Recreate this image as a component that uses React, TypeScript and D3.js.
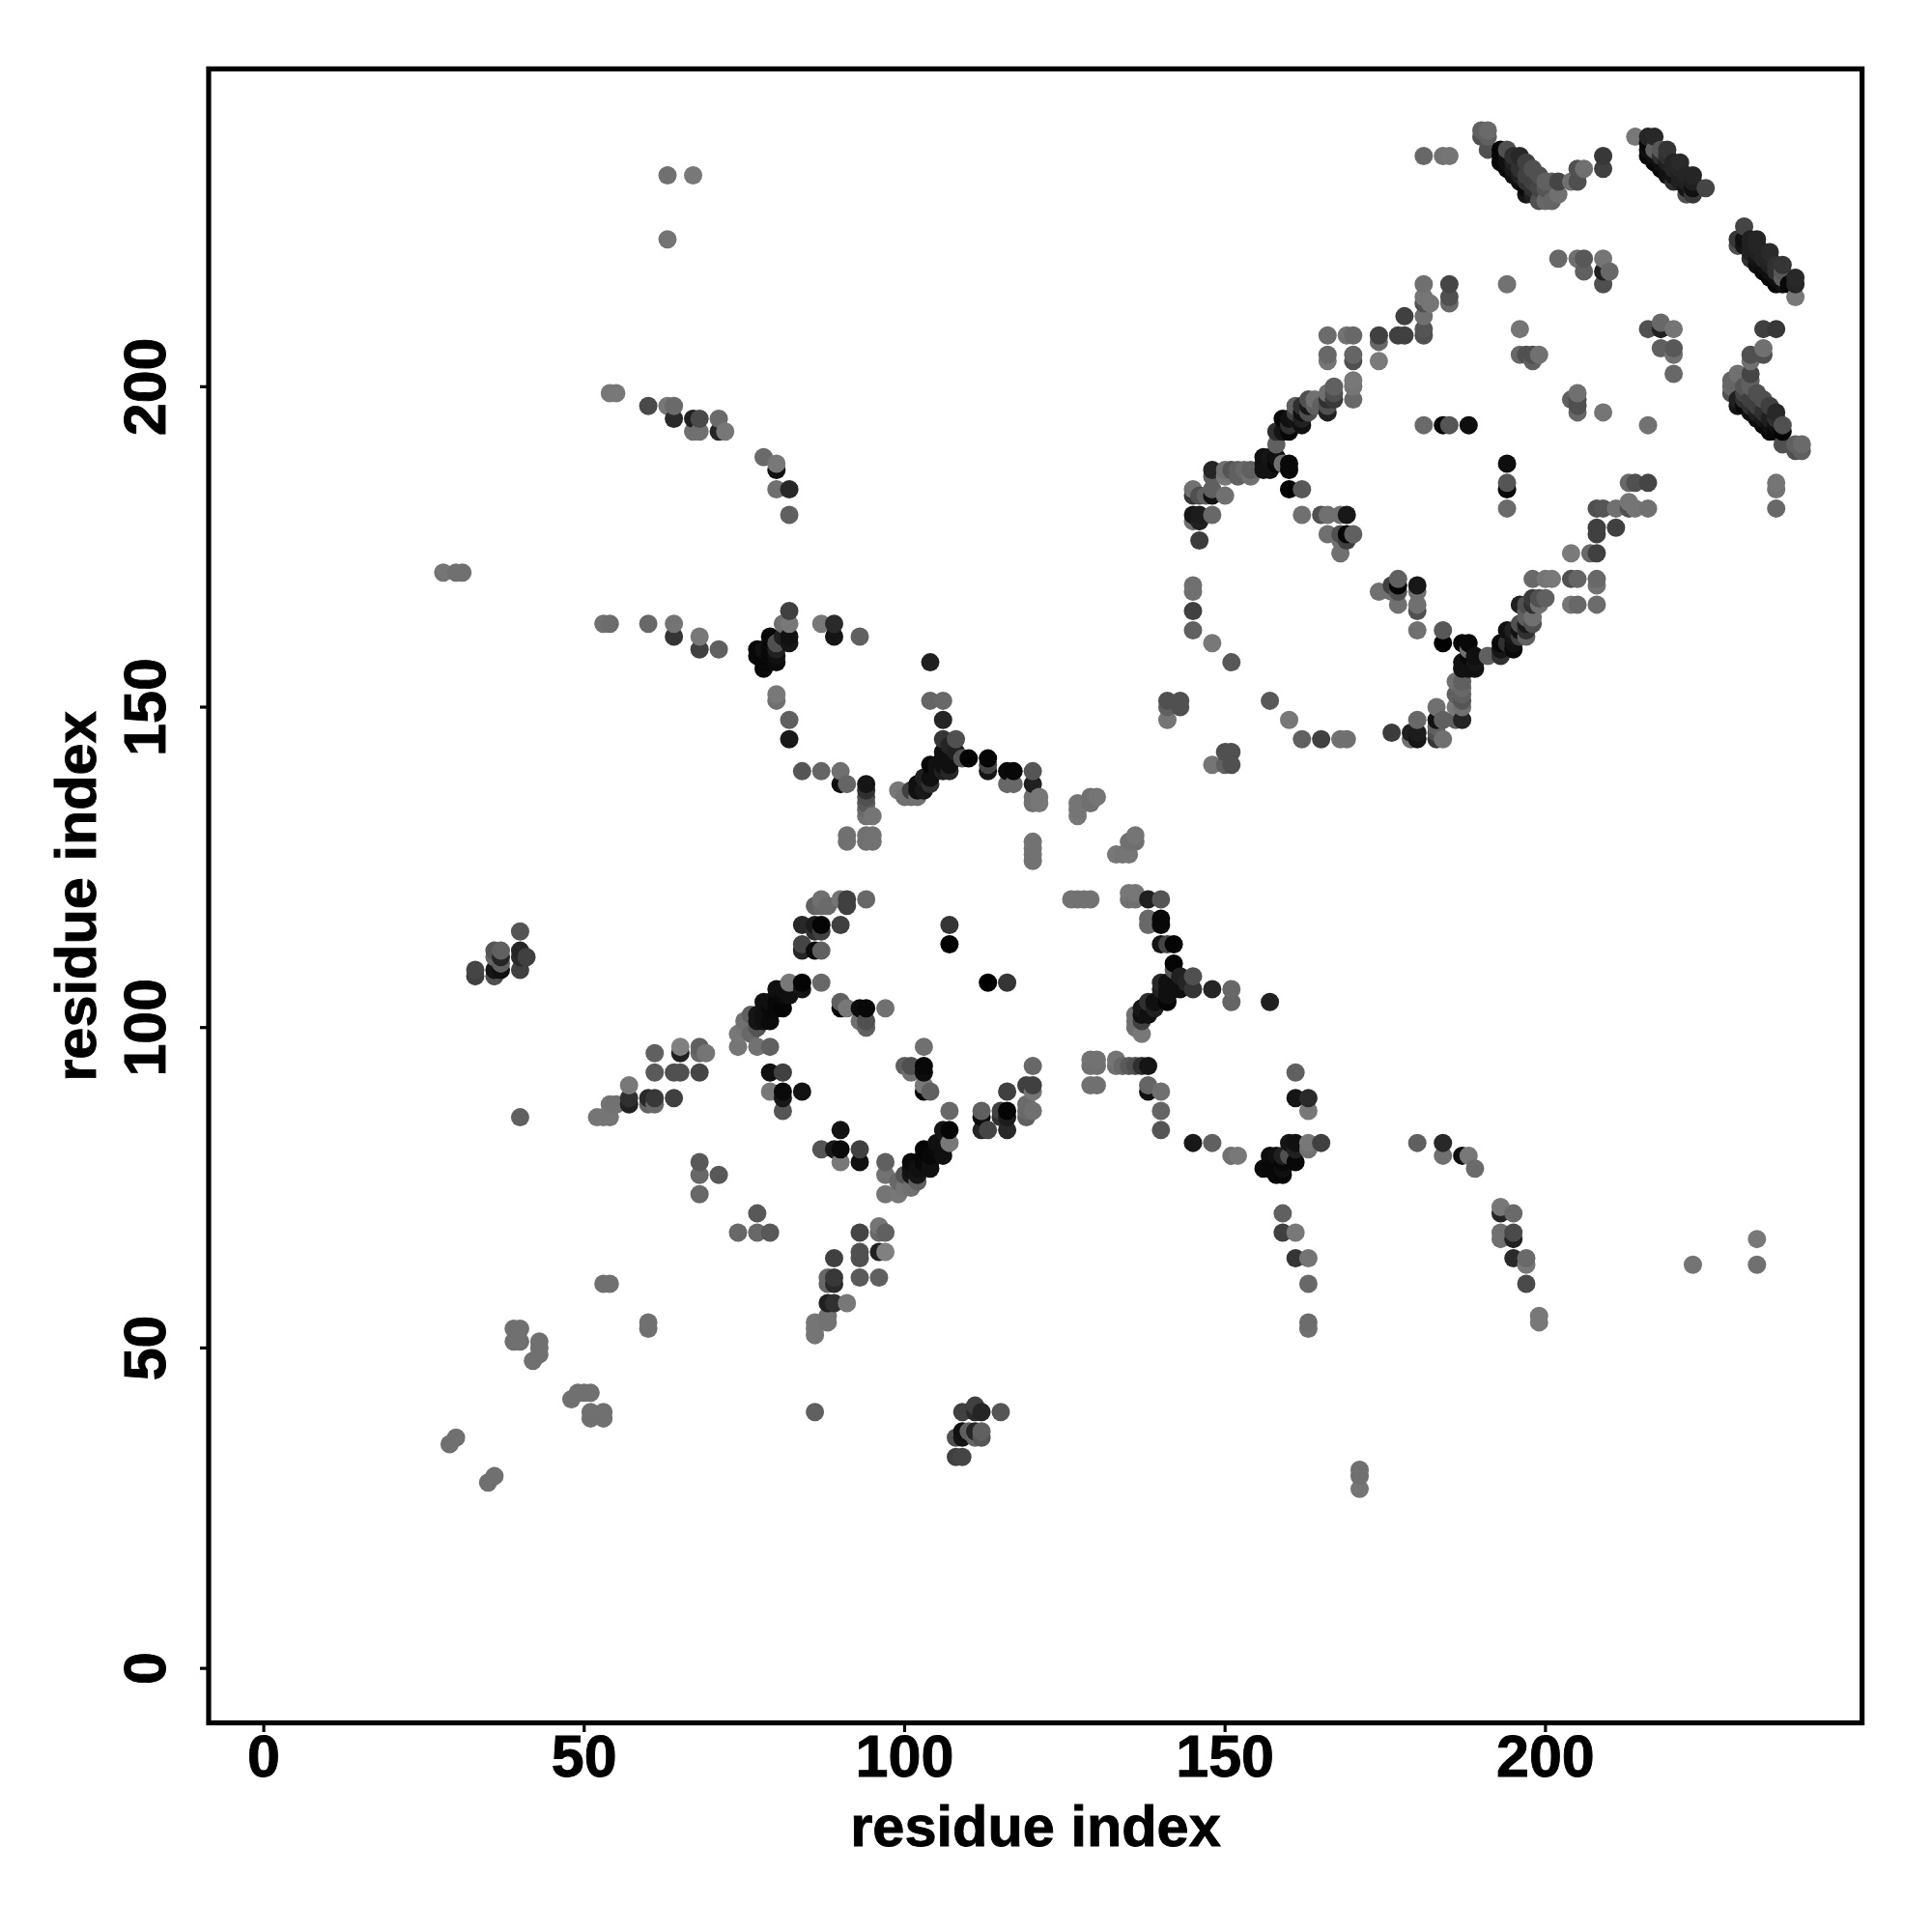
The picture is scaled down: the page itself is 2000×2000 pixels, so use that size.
import React from "react";
import * as d3 from "d3";

// Contacts are [residue i, residue j, grey level]; the map is symmetric, so only i < j is listed.
const farContacts = [
[63,233,0x70],[67,233,0x78],[63,223,0x74],[54,199,0x78],[55,199,0x78],[60,197,0x4a],[63,197,0x77],[64,197,0x6a],[64,195,0x2a],[67,195,0x20],[68,195,0x4a],[71,195,0x6a],[67,193,0x70],[68,193,0x70],[71,193,0x25],[72,193,0x77],[78,189,0x6a],[80,188,0x78],[80,187,0x10],[80,184,0x70],[82,184,0x28],[82,180,0x60],[28,171,0x75],[30,171,0x70],[31,171,0x70],[53,163,0x70],[54,163,0x6c],[60,163,0x68],[64,163,0x74],[64,161,0x35],[68,161,0x78],[68,159,0x40],[71,159,0x60],
];
const betaArmA = [
[77,159,0x08],[77,158,0x0a],[78,156,0x0a],[79,161,0x08],[79,159,0x08],[80,157,0x0c],[79,157,0x08],[78,158,0x08],[78,157,0x08],[79,158,0x08],[78,159,0x10],[80,158,0x10],[80,159,0x20],[82,165,0x40],[81,163,0x70],[82,163,0x78],[82,161,0x10],[82,160,0x15],[81,161,0x20],[80,160,0x50],[87,163,0x78],[89,163,0x2a],[89,161,0x15],[93,161,0x60],[80,152,0x78],[80,151,0x70],[82,148,0x60],[82,145,0x18],[84,140,0x55],[87,140,0x65],[90,140,0x70],[90,138,0x10],[91,138,0x65],[94,138,0x15],[94,137,0x30],[94,136,0x50],[94,135,0x5a],[94,134,0x68],[94,133,0x70],[95,133,0x75],[91,130,0x70],[91,129,0x70],[94,130,0x70],[94,129,0x70],[95,130,0x72],[95,129,0x72],
[99,137,0x78],[100,136,0x70],[101,136,0x70],[102,136,0x70],[102,138,0x10],[102,137,0x10],[103,137,0x18],[103,139,0x20],[104,138,0x30],[104,139,0x10],[104,141,0x05],[101,137,0x40],[105,140,0x10],[105,141,0x10],[106,143,0x10],[106,142,0x10],[106,141,0x10],[106,140,0x20],[107,140,0x28],[107,141,0x10],[107,142,0x10],[108,143,0x20],[104,157,0x20],[104,151,0x65],[106,151,0x68],[106,148,0x25],[106,145,0x35],[108,145,0x50],[107,144,0x25],[110,142,0x05],[109,142,0x55],[113,142,0x05],[113,141,0x45],[113,140,0x15],[116,140,0x0a],[117,140,0x08],[116,138,0x68],[117,138,0x68],[120,140,0x55],[120,138,0x20],[120,136,0x70],[120,135,0x70],[121,136,0x77],[121,135,0x77],[120,129,0x72],[120,128,0x72],[120,127,0x72],[120,126,0x72],
[127,135,0x75],[127,134,0x75],[127,133,0x78],[129,136,0x70],[129,135,0x70],[130,136,0x75],[133,127,0x75],[134,127,0x75],[135,127,0x75],[135,129,0x70],[136,130,0x75],[136,129,0x75],[141,151,0x50],[141,150,0x60],[141,148,0x75],[143,151,0x50],[143,150,0x50],[150,143,0x50],[151,143,0x50],[148,141,0x75],[150,141,0x55],[151,141,0x55],
];
const earlyContacts = [
[87,120,0x70],[86,119,0x60],[87,119,0x68],[88,119,0x6a],[91,120,0x40],[91,119,0x40],[90,120,0x75],[94,120,0x68],[84,116,0x28],[86,116,0x1c],[87,116,0x05],[90,116,0x40],[86,115,0x30],[87,115,0x40],[84,113,0x45],[84,112,0x25],[86,112,0x0c],[87,112,0x60],[107,116,0x35],[107,113,0x00],
[82,107,0x78],[84,107,0x05],[84,106,0x15],[87,107,0x68],[80,106,0x10],[81,106,0x10],[82,105,0x10],[81,105,0x0a],[78,104,0x10],[79,104,0x10],[81,103,0x05],[80,104,0x08],[80,103,0x08],[79,103,0x08],[78,102,0x10],[77,102,0x15],[79,101,0x0a],[78,101,0x10],[77,101,0x15],[76,102,0x60],[75,101,0x70],[75,100,0x75],[77,100,0x55],[76,99,0x68],[74,99,0x78],[74,97,0x75],[77,97,0x72],[79,97,0x60],[79,93,0x10],[81,93,0x40],[79,90,0x78],[81,90,0x0a],[81,89,0x18],[84,90,0x12],[81,87,0x55],[90,104,0x60],[90,103,0x05],[91,103,0x78],[93,103,0x0c],[94,103,0x08],[97,103,0x70],[93,101,0x70],[94,101,0x50],[94,100,0x60],
[40,115,0x55],[36,112,0x55],[37,112,0x60],[40,112,0x25],[41,111,0x40],[37,111,0x25],[36,111,0x65],[40,111,0x2a],[37,110,0x60],[37,109,0x10],[36,109,0x15],[40,109,0x40],[36,108,0x50],[33,109,0x45],[33,108,0x40],[40,86,0x60],
[61,96,0x60],[65,97,0x80],[65,96,0x20],[68,97,0x60],[69,96,0x75],[68,96,0x68],[61,93,0x5a],[64,93,0x50],[65,93,0x50],[68,93,0x45],[57,91,0x78],[57,89,0x30],[57,88,0x20],[60,89,0x2a],[61,89,0x38],[60,88,0x65],[61,88,0x68],[64,89,0x40],[54,88,0x72],[55,88,0x72],[52,86,0x75],[53,86,0x75],[54,86,0x75],[68,79,0x58],[68,77,0x68],[71,77,0x58],[68,74,0x68],[77,71,0x55],
[53,60,0x70],[54,60,0x70],[39,53,0x70],[40,53,0x70],[39,51,0x70],[40,51,0x70],[43,51,0x70],[43,50,0x70],[43,49,0x70],[42,48,0x70],[29,35,0x70],[30,36,0x70],
];
const lateArc = [
[181,236,0x68],[184,236,0x72],[185,236,0x75],[190,240,0x60],[190,239,0x50],[191,240,0x6a],[191,237,0x50],[193,237,0x05],[193,236,0x08],[193,235,0x08],[194,237,0x50],[194,236,0x10],[194,235,0x10],[194,234,0x08],[195,236,0x30],[195,235,0x20],[195,234,0x18],[195,233,0x10],[196,236,0x28],[196,234,0x30],[196,233,0x20],[196,232,0x10],[197,233,0x40],[197,232,0x30],[197,231,0x08],[197,230,0x15],[198,234,0x50],[198,232,0x40],[198,231,0x30],[198,230,0x20],[199,231,0x45],[199,229,0x50],[200,232,0x60],[200,229,0x68],[201,232,0x60],[201,229,0x65],[202,232,0x45],[202,230,0x70],[204,232,0x70],[205,234,0x50],[205,232,0x50],[206,234,0x70],[209,236,0x38],[209,234,0x40],
[214,239,0x78],[216,239,0x25],[217,239,0x28],[216,237,0x10],[216,236,0x08],[217,236,0x10],[217,235,0x08],[218,237,0x58],[218,236,0x30],[219,237,0x35],[219,235,0x20],[218,234,0x08],[219,233,0x10],[220,235,0x25],[220,234,0x25],[220,233,0x15],[221,235,0x2a],[220,232,0x30],[221,234,0x25],[221,233,0x20],[223,233,0x25],[221,232,0x20],[222,232,0x20],[222,231,0x15],[222,230,0x50],[223,232,0x20],[223,230,0x38],[223,231,0x10],[225,231,0x45],
[231,225,0x48],[230,223,0x50],[230,222,0x70],[231,223,0x10],[231,222,0x15],[232,223,0x20],[232,222,0x15],[232,221,0x15],[232,220,0x45],[233,223,0x30],[233,222,0x25],[233,221,0x15],[233,220,0x15],[234,221,0x20],[234,219,0x10],[234,218,0x10],[235,221,0x30],[235,220,0x20],[235,219,0x10],[235,218,0x10],[236,219,0x30],[236,218,0x10],[237,219,0x35],[236,217,0x10],[236,216,0x05],[237,216,0x05],[237,217,0x60],[238,216,0x08],[239,217,0x25],[239,216,0x25],[239,214,0x70],
[202,220,0x68],[205,220,0x70],[206,220,0x58],[206,218,0x60],[209,220,0x75],[209,218,0x20],[210,218,0x68],[209,216,0x50],[216,209,0x58],[218,210,0x68],[218,209,0x20],[220,209,0x78],[218,206,0x5a],[220,206,0x55],[220,205,0x70],[220,202,0x68],[234,209,0x48],[236,209,0x40],[232,205,0x58],[234,206,0x6a],[234,205,0x48],[232,204,0x78],[232,202,0x50],[230,202,0x70],[229,201,0x65],[229,199,0x50],[231,200,0x55],[232,200,0x58],[233,199,0x50],[234,198,0x58],[235,197,0x40],[232,198,0x30],[231,197,0x10],[232,196,0x10],[233,197,0x20],[233,195,0x05],[234,196,0x20],[234,195,0x10],[234,194,0x05],[235,195,0x15],[236,195,0x20],[235,193,0x05],[236,194,0x10],[236,196,0x25],[236,193,0x08],[237,194,0x50],[237,193,0x08],[237,191,0x50],[239,190,0x55],[239,191,0x60],[240,191,0x70],[240,190,0x50],
[205,199,0x70],[204,198,0x60],[205,198,0x50],[205,196,0x68],[209,196,0x75],[216,194,0x72],[198,205,0x55],[199,205,0x70],[197,205,0x50],[196,205,0x70],[196,209,0x72],[194,216,0x70],
];
const midArc = [
[181,216,0x70],[185,216,0x45],[181,214,0x75],[181,213,0x50],[182,213,0x75],[185,214,0x50],[185,213,0x68],[178,211,0x40],[181,211,0x70],[181,209,0x55],[181,208,0x50],[174,208,0x40],[177,208,0x40],[178,208,0x40],[174,207,0x68],[174,204,0x7a],[166,208,0x6c],[169,208,0x72],[170,208,0x68],[166,205,0x68],[166,204,0x75],[170,205,0x65],[170,204,0x50],[170,201,0x78],[170,200,0x75],[170,198,0x68],[167,200,0x60],[167,199,0x50],[166,199,0x70],[167,198,0x3a],[166,198,0x30],[166,196,0x20],[163,198,0x50],[164,197,0x60],[165,197,0x60],[161,197,0x60],[162,197,0x30],[162,196,0x10],[162,195,0x20],[162,194,0x10],[161,195,0x15],[160,195,0x10],[159,195,0x08],[160,194,0x30],[160,193,0x08],[159,193,0x15],[158,193,0x30],[158,191,0x60],[156,189,0x10],[156,188,0x12],[156,187,0x12],[157,189,0x15],[157,188,0x12],[157,187,0x12],[158,189,0x10],[159,188,0x70],[160,188,0x08],[160,187,0x08],[154,187,0x60],[153,187,0x68],[152,187,0x60],[150,187,0x70],[148,187,0x25],[148,186,0x60],[152,186,0x60],[154,186,0x70],
[181,194,0x6a],[184,194,0x08],[185,194,0x55],[188,194,0x0e],[160,184,0x02],[162,184,0x58],[145,184,0x70],[145,183,0x35],[148,184,0x60],[146,183,0x50],[148,183,0x12],[150,183,0x70],[145,180,0x15],[146,180,0x1c],[148,180,0x68],[145,179,0x70],[146,179,0x20],[146,176,0x3c],[162,180,0x70],[165,180,0x50],[166,180,0x70],[168,180,0x70],[169,180,0x18],[166,177,0x70],[168,176,0x70],[169,177,0x05],[170,177,0x60],[169,176,0x40],[168,174,0x70],[145,169,0x70],[145,168,0x70],[145,165,0x40],[145,162,0x60],[148,160,0x78],[151,157,0x58],[157,151,0x58],[160,148,0x78],[162,145,0x60],[165,145,0x48],[168,145,0x70],[169,145,0x70],
[176,146,0x40],[179,146,0x20],[180,148,0x70],[179,145,0x70],[180,146,0x1c],[180,145,0x05],[183,150,0x70],[183,148,0x05],[183,147,0x60],[183,145,0x30],[184,148,0x5c],[184,145,0x68],[187,148,0x20],[187,150,0x60],[187,151,0x55],[187,152,0x68],[187,153,0x60],[187,154,0x55],[186,154,0x70],[186,152,0x78],[186,150,0x78],[186,148,0x72],[187,160,0x15],[188,160,0x05],[188,158,0x08],[189,158,0x08],[187,157,0x10],[187,156,0x15],[189,156,0x18],[188,157,0x10],[191,158,0x60],[193,158,0x30],[194,162,0x10],[193,160,0x10],[194,160,0x30],[195,161,0x15],[195,160,0x15],[195,159,0x08],[196,166,0x22],[197,166,0x50],[198,167,0x30],[199,167,0x68],[200,167,0x65],[199,166,0x70],[198,164,0x70],[198,163,0x55],[197,163,0x18],[196,163,0x50],[197,161,0x60],[196,161,0x40],[194,188,0x10],[194,185,0x60],[194,184,0x08],[194,181,0x70],[174,168,0x70],[177,170,0x60],[176,169,0x50],[177,169,0x05],[177,168,0x50],[177,166,0x60],[180,169,0x20],[180,168,0x70],[180,166,0x60],[180,165,0x40],[180,162,0x70],[184,162,0x60],[184,160,0x05],
[213,185,0x60],[214,185,0x55],[216,185,0x48],[208,181,0x45],[209,181,0x50],[211,181,0x6a],[213,182,0x75],[213,181,0x68],[214,181,0x72],[216,181,0x68],[208,178,0x35],[208,177,0x35],[211,178,0x42],[204,174,0x78],[207,174,0x70],[208,174,0x42],[198,170,0x68],[200,170,0x75],[201,170,0x78],[204,170,0x50],[205,170,0x65],[208,170,0x68],[208,169,0x70],[204,166,0x72],[205,166,0x68],[208,166,0x70],[236,185,0x70],[236,184,0x70],[236,181,0x6a],
];

const xTicks = [0, 50, 100, 150, 200];
const yTicks = [0, 50, 100, 150, 200];
const axisLabel = "residue index";

const INK = "#000";
const FONT = "'Liberation Sans', Arial, sans-serif";

export default function App() {
  const x = d3.scaleLinear().domain([-8.6, 249.4]).range([216, 1927.6]);
  const y = d3.scaleLinear().domain([-8.5, 249.6]).range([1783.5, 71.3]);
  const upper = [...farContacts, ...betaArmA, ...earlyContacts, ...lateArc, ...midArc];
  const all = upper.flatMap(([i, j, g]) => [[i, j, g], [j, i, g]]);
  const seen = new Set();
  const points = all
    .filter(([i, j]) => {
      const k = i + "," + j;
      if (seen.has(k)) return false;
      seen.add(k);
      return true;
    })
    .sort((a, b) => d3.ascending(a[0], b[0]) || d3.ascending(a[1], b[1]));
  const textStyle = { fontFamily: FONT, fontWeight: 700, stroke: INK, strokeWidth: 0.9 };
  return (
    <svg
      width={2000}
      height={2000}
      viewBox="0 0 2000 2000"
      style={{ position: "absolute", left: 0, top: 0, background: "#fff" }}
    >
      {points.map(([i, j, g], n) => (
        <circle key={n} cx={x(i)} cy={y(j)} r={9.5} fill={d3.rgb(g, g, g).formatHex()} />
      ))}
      <rect x={216} y={71.3} width={1711.6} height={1712.2} fill="none" stroke={INK} strokeWidth={5.2} />
      {xTicks.map((t) => (
        <g key={t}>
          <line x1={x(t)} x2={x(t)} y1={1783.5} y2={1793} stroke={INK} strokeWidth={3.2} />
          <text x={x(t)} y={1839} textAnchor="middle" style={textStyle} fontSize={61}>{t}</text>
        </g>
      ))}
      {yTicks.map((t) => (
        <g key={t}>
          <line x1={216} x2={207} y1={y(t)} y2={y(t)} stroke={INK} strokeWidth={3.2} />
          <text
            transform={`translate(171,${y(t)}) rotate(-90)`}
            textAnchor="middle"
            style={textStyle}
            fontSize={61}
          >{t}</text>
        </g>
      ))}
      <text x={1072} y={1911} textAnchor="middle" style={textStyle} fontSize={59.5}>{axisLabel}</text>
      <text
        transform={`translate(99,928) rotate(-90)`}
        textAnchor="middle"
        style={textStyle}
        fontSize={59.5}
      >{axisLabel}</text>
    </svg>
  );
}
